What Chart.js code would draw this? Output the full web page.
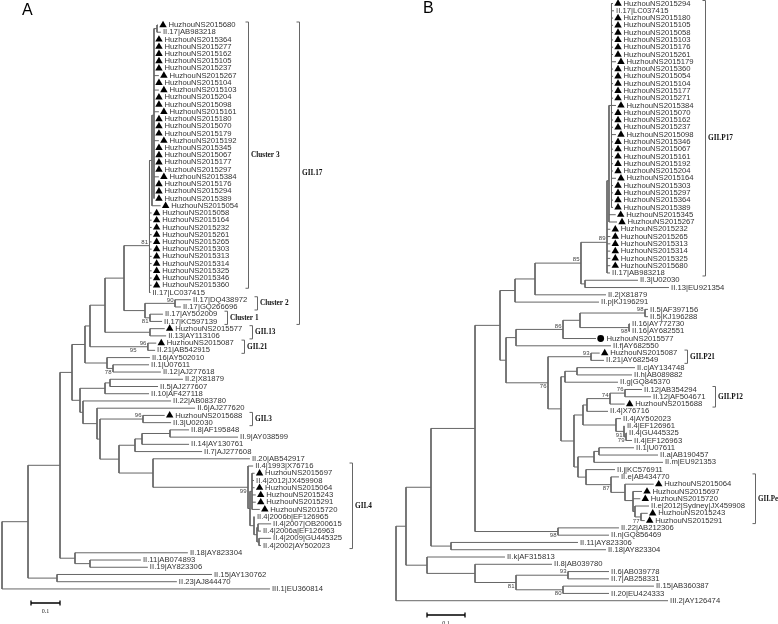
<!DOCTYPE html>
<html lang="en">
<head>
<meta charset="UTF-8">
<title>Norovirus phylogenetic trees</title>
<script src="https://cdn.jsdelivr.net/npm/chart.js"></script>
<style>
  body { margin: 0; background: #fff; }
  .wrap { position: relative; width: 778px; height: 624px; }
  canvas { position: absolute; top: 0; }
  #treeA { left: 0; }
  #treeB { left: 389px; }
</style>
</head>
<body>
<div class="wrap">
  <canvas id="treeA" width="389" height="624"></canvas>
  <canvas id="treeB" width="389" height="624"></canvas>
</div>
<script>
// ---- panel A : leaves top to bottom, tip depth (substitutions/site) ----
const leavesA = ['HuzhouNS2015680','II.17|AB983218','HuzhouNS2015364','HuzhouNS2015277','HuzhouNS2015162','HuzhouNS2015105','HuzhouNS2015237','HuzhouNS2015267','HuzhouNS2015104','HuzhouNS2015103','HuzhouNS2015204','HuzhouNS2015098','HuzhouNS2015161','HuzhouNS2015180','HuzhouNS2015070','HuzhouNS2015179','HuzhouNS2015192','HuzhouNS2015345','HuzhouNS2015067','HuzhouNS2015177','HuzhouNS2015297','HuzhouNS2015384','HuzhouNS2015176','HuzhouNS2015294','HuzhouNS2015389','HuzhouNS2015054','HuzhouNS2015058','HuzhouNS2015164','HuzhouNS2015232','HuzhouNS2015261','HuzhouNS2015265','HuzhouNS2015303','HuzhouNS2015313','HuzhouNS2015314','HuzhouNS2015325','HuzhouNS2015346','HuzhouNS2015360','II.17|LC037415','II.17|DQ438972','II.17|GQ266696','II.17|AY502009','II.17|KC597139','HuzhouNS2015577','II.13|AY113106','HuzhouNS2015087','II.21|AB542915','II.16|AY502010','II.1|U07611','II.12|AJ277618','II.2|X81879','II.5|AJ277607','II.10|AF427118','II.22|AB083780','II.6|AJ277620','HuzhouNS2015688','II.3|U02030','II.8|AF195848','II.9|AY038599','II.14|AY130761','II.7|AJ277608','II.20|AB542917','II.4|1993|X76716','HuzhouNS2015697','II.4|2012|JX459908','HuzhouNS2015064','HuzhouNS2015243','HuzhouNS2015291','HuzhouNS2015720','II.4|2006b|EF126965','II.4|2007|OB200615','II.4|2006a|EF126963','II.4|2009|GU445325','II.4|2002|AY502023','II.18|AY823304','II.11|AB074893','II.19|AY823306','II.15|AY130762','II.23|AJ844470','III.1|EU360814'];

const tipsA = [0.538,0.548,0.524,0.524,0.524,0.524,0.524,0.541,0.524,0.541,0.524,0.524,0.541,0.524,0.524,0.524,0.541,0.524,0.524,0.524,0.524,0.541,0.524,0.524,0.524,0.547,
  0.516,0.516,0.516,0.516,0.516,0.516,0.516,0.516,0.516,0.516,0.516,0.512,
  0.652,0.617,0.555,0.552,0.561,0.566,0.532,0.528,0.510,0.507,0.548,0.624,0.538,0.507,0.583,0.666,0.561,0.583,
  0.645,0.814,0.645,0.690,0.855,0.866,0.871,0.869,0.871,0.875,0.875,0.889,0.872,0.928,0.893,0.928,0.893,
  0.641,0.479,0.503,0.724,0.603,0.924];

// internal node = [depth, children, bootstrap]; a number child is a leaf index
const treeA = [0, [
  [0.0897, [
    [0.2, [
      [0.2414, [
        [0.2862, [
          [0.3034, [
            [0.3552, [
              [0.4207, [
                [0.5086, [
                  [0.5172, [
                    [0.5241, [[0.5345, [0, 1]], 2,3,4,5,6,7,8,9,10,11,12,13,14,15,16,17,18,19,20,21,22,23,24]],
                    25]],
                  26,27,28,29,30,31,32,33,34,35,36,37], 81],
                [0.4931, [[0.5966, [38, 39], 90], [0.5103, [40, 41], 81]]]
              ]],
              [0.5103, [42, 43]]
            ]],
            [0.469, [[0.503, [44, 45], 96]], 95]
          ]],
          [0.3621, [46, [0.3828, [47, 48], 78]]]
        ]],
        [0.269, [
          [0.3552, [[0.3724, [49, 50]], 51]],
          [0.2793, [52,
            [0.3276, [53,
              [0.3379, [
                [0.4862, [54, 55], 96],
                [0.4034, [
                  [0.4586, [[0.4828, [[0.5793, [56, 57]], 58]], 59]],
                  [0.5207, [60,
                    [0.8483, [61, [0.8552, [[0.8621, [62,63,64,65,66,67]],
                      [0.869, [68, [0.8793, [[0.8828, [69, 70]], [0.8862, [71, 72]]]]]]]]], 99]]]
                ]]
              ]]
            ]]
          ]]
        ]]
      ]],
      [0.2517, [73, [0.3034, [74, 75]]]]
    ]],
    [0.1897, [76, 77]]
  ]],
  78
]];

const cladesA = [['Cluster 3', 0, 36], ['Cluster 2', 38, 39], ['Cluster 1', 40, 41], ['GII.17', 0, 41],
  ['GII.13', 42, 43], ['GII.21', 44, 45], ['GII.3', 54, 55], ['GII.4', 61, 72]];

// ---- panel B ----
const leavesB = ['HuzhouNS2015294','II.17|LC037415','HuzhouNS2015180','HuzhouNS2015105','HuzhouNS2015058','HuzhouNS2015103','HuzhouNS2015176','HuzhouNS2015261','HuzhouNS2015179','HuzhouNS2015360','HuzhouNS2015054','HuzhouNS2015104','HuzhouNS2015177','HuzhouNS2015271','HuzhouNS2015384','HuzhouNS2015070','HuzhouNS2015162','HuzhouNS2015237','HuzhouNS2015098','HuzhouNS2015346','HuzhouNS2015067','HuzhouNS2015161','HuzhouNS2015192','HuzhouNS2015204','HuzhouNS2015164','HuzhouNS2015303','HuzhouNS2015297','HuzhouNS2015364','HuzhouNS2015389','HuzhouNS2015345','HuzhouNS2015267','HuzhouNS2015232','HuzhouNS2015265','HuzhouNS2015313','HuzhouNS2015314','HuzhouNS2015325','HuzhouNS2015680','II.17|AB983218','II.3|U02030','II.13|EU921354','II.2|X81879','II.p|KJ196291','II.5|AF397156','II.5|KJ196288','II.16|AY772730','II.16|AY682551','HuzhouNS2015577','II.f|AY682550','HuzhouNS2015087','II.21|AY682549','II.c|AY134748','II.h|AB089882','II.g|GQ845370','II.12|AB354294','II.12|AF504671','HuzhouNS2015688','II.4|X76716','II.4|AY502023','II.4|EF126961','II.4|GU445325','II.4|EF126963','II.1|U07611','II.a|AB190457','II.m|EU921353','II.j|KC576911','II.e|AB434770','HuzhouNS2015064','HuzhouNS2015697','HuzhouNS2015720','II.e|2012|Sydney|JX459908','HuzhouNS2015243','HuzhouNS2015291','II.22|AB212306','II.n|GQ856469','II.11|AY823306','II.18|AY823304','II.k|AF315813','II.8|AB039780','II.6|AB039778','II.7|AB258331','II.15|AB360387','II.20|EU424333','III.2|AY126474'];

const tipsB = [0.5711,0.5737,0.5711,0.5711,0.5711,0.5711,0.5711,0.5711,0.5789,0.5711,0.5711,0.5711,0.5711,0.5711,0.5789,0.5711,0.5711,0.5711,0.5789,0.5711,0.5711,0.5711,0.5711,0.5711,0.5789,0.5711,0.5711,0.5711,0.5711,0.5782,0.5816,
  0.5639,0.5639,0.5639,0.5639,0.5639,0.5639,0.5632,0.6368,0.7184,0.5526,0.5342,
  0.6632,0.6632,0.6158,0.6158,0.5263,0.5658,0.5361,0.5474,0.6289,0.6211,0.5842,0.6474,0.6711,0.6018,0.5579,
  0.5921,0.6026,0.6079,0.6211,0.6263,0.6895,0.7026,0.5763,0.5868,0.6782,0.6474,0.6429,0.6658,0.6624,0.6545,
  0.5868,0.5605,0.4789,0.5526,0.2868,0.4105,0.5605,0.5605,0.6789,0.5605,0.7158];

const treeB = [0, [
  [0.0263, [
    [0.0921, [
      [0.2079, [
        [0.2737, [
          [0.3132, [
            [0.3658, [
              [0.4868, [
                [0.5553, [
                  [0.5605, [[0.5671, [0,1,2,3,4,5,6,7,8,9,10,11,12,13,14,15,16,17,18,19,20,21,22,23,24,25,26,27,28]], 29, 30]],
                  31,32,33,34,35,36,37], 89],
                [0.4974, [38, 39]]
              ], 85],
              40]],
            41]],
          [0.2895, [
            [0.3158, [
              [0.4395, [[0.4842, [[0.6553, [42, 43], 98], [0.6132, [44, 45], 98]]], 46], 86],
              47]],
            [0.4, [
              [0.5132, [48, 49], 93],
              [0.4342, [
                [0.4447, [[0.4763, [50, 51]], 52]],
                [0.4684, [
                  [0.4921, [
                    [0.5026, [[0.5632, [[0.6026, [53, 54], 76], 55], 74], 56]],
                    [0.5789, [57, [0.6, [58, [0.6053, [59, 60], 79]], 91]]]
                  ]],
                  [0.4789, [
                    [0.5211, [[0.5342, [61, 62]], 63]],
                    [0.5, [64, [0.5658, [65, [0.6026, [66, [0.6237, [67, 68, [0.6289, [69, [0.6447, [70, 71], 77]]]]]]]], 87]]]
                  ]]
                ]]
              ]]
            ], 76]
          ]]
        ]],
        [0.4263, [72, 73], 98]
      ]],
      [0.1447, [74, 75]]
    ]],
    [0.0816, [76, [0.2079, [77, [0.3158, [[0.4526, [78, 79], 93], [0.4395, [80, 81], 80]], 81]]]]]
  ]],
  82
]];

const cladesB = [['GII.P17', 0, 37], ['GII.P21', 48, 49], ['GII.P12', 53, 55], ['GII.Pe', 65, 71]];
const circlesB = [46];
const scaleBarValue = 0.1;

const LEAF_FONT = '7.7px "Liberation Sans", Arial, sans-serif';
const BOOT_FONT = '6px "Liberation Sans", Arial, sans-serif';
const CLADE_FONT = 'bold 7.3px "Liberation Serif", serif';

function layout(tree, tips) {
  const segs = [], boots = [];
  function place(node) {
    if (typeof node === 'number') return node;
    const d = node[0], kids = node[1];
    const ys = kids.map((k, i) => {
      const ky = place(k);
      const kx = typeof k === 'number' ? tips[k] : k[0];
      segs.push({x: d, y: ky}, {x: kx, y: ky}, {x: NaN, y: NaN});
      if (typeof k !== 'number' && k[2] !== undefined) boots.push({x: k[0], y: ky, v: k[2], first: i === 0});
      return ky;
    });
    segs.push({x: d, y: ys[0]}, {x: d, y: ys[ys.length - 1]}, {x: NaN, y: NaN});
    return ys.reduce((a, b) => a + b, 0) / ys.length;
  }
  place(tree);
  return {segs, boots};
}

function treeText(p, boots) {
  return {
    id: 'treeText',
    afterDatasetsDraw(chart) {
      const {ctx, scales: {x, y}} = chart;
      ctx.save();
      const labelX = i => x.getPixelForValue(p.tips[i]) +
        (p.leaves[i].startsWith('Huzhou') ? 10.5 : 2);
      ctx.font = LEAF_FONT;
      ctx.fillStyle = '#333';
      ctx.textBaseline = 'middle';
      ctx.textAlign = 'left';
      const ends = p.leaves.map((name, i) => {
        const lx = labelX(i);
        ctx.fillText(name, lx, y.getPixelForValue(i));
        return lx + ctx.measureText(name).width;
      });

      // bootstrap values
      ctx.font = BOOT_FONT;
      ctx.fillStyle = '#444';
      ctx.textAlign = 'right';
      boots.forEach(b => {
        ctx.textBaseline = b.first ? 'bottom' : 'top';
        const by = y.getPixelForValue(b.y) + (b.first ? -0.5 : 1);
        ctx.fillText(String(b.v), x.getPixelForValue(b.x) - 1.5, by);
      });

      // clade brackets
      const done = [];
      ctx.strokeStyle = '#666';
      ctx.lineWidth = 1;
      p.clades.forEach(([name, a, b]) => {
        let right = Math.max(...ends.slice(a, b + 1));
        done.forEach(c => { if (c.a >= a && c.b <= b) right = Math.max(right, c.end); });
        const bx = Math.round(right + 10) + 0.5;
        const y0 = y.getPixelForValue(a) - 3, y1 = y.getPixelForValue(b) + 3;
        ctx.beginPath();
        ctx.moveTo(bx - 3, y0); ctx.lineTo(bx, y0); ctx.lineTo(bx, y1); ctx.lineTo(bx - 3, y1);
        ctx.stroke();
        ctx.font = CLADE_FONT;
        ctx.fillStyle = '#111';
        ctx.textAlign = 'left';
        ctx.textBaseline = 'middle';
        const tx = bx + 2.5;
        ctx.fillText(name, tx, (y0 + y1) / 2, chart.width - tx);
        done.push({a, b, end: tx + ctx.measureText(name).width});
      });

      // scale bar
      const len = x.getPixelForValue(scaleBarValue) - x.getPixelForValue(0);
      ctx.strokeStyle = '#000';
      ctx.lineWidth = 1.3;
      ctx.beginPath();
      ctx.moveTo(p.barX, p.barY); ctx.lineTo(p.barX + len, p.barY);
      ctx.moveTo(p.barX, p.barY - 2.5); ctx.lineTo(p.barX, p.barY + 2.5);
      ctx.moveTo(p.barX + len, p.barY - 2.5); ctx.lineTo(p.barX + len, p.barY + 2.5);
      ctx.stroke();
      ctx.font = '6px "Liberation Serif", serif';
      ctx.fillStyle = '#222';
      ctx.textAlign = 'center';
      ctx.textBaseline = 'top';
      ctx.fillText(String(scaleBarValue), p.barX + len / 2, p.barY + 5);

      // panel letter
      ctx.font = '16px "Liberation Sans", Arial, sans-serif';
      ctx.fillStyle = '#000';
      ctx.textAlign = 'left';
      ctx.fillText(p.letter, p.letterX, p.letterY);
      ctx.restore();
    }
  };
}

function drawPanel(id, p) {
  const W = 389, H = 624;
  const {segs, boots} = layout(p.tree, p.tips);
  const xmin = -p.rootPx / p.pxPer, xmax = (W - p.rootPx) / p.pxPer;
  const ymin = -p.firstY / p.rowH, ymax = (H - p.firstY) / p.rowH;
  const tri = [], dot = [];
  p.leaves.forEach((n, i) => {
    if (p.circles.includes(i)) dot.push({x: p.tips[i] + 4.7 / p.pxPer, y: i});
    else if (n.startsWith('Huzhou')) tri.push({x: p.tips[i] + 5 / p.pxPer, y: i});
  });
  new Chart(document.getElementById(id), {
    type: 'scatter',
    data: {
      datasets: [
        { data: tri, pointStyle: 'triangle', pointRadius: 4.3, backgroundColor: '#000', borderColor: '#000', borderWidth: 0 },
        { data: dot, pointStyle: 'circle', pointRadius: 3.4, backgroundColor: '#000', borderColor: '#000', borderWidth: 0 },
        { data: segs, showLine: true, spanGaps: false, borderColor: '#666', borderWidth: 1, pointRadius: 0 }
      ]
    },
    options: {
      responsive: false,
      animation: false,
      events: [],
      devicePixelRatio: 1,
      layout: { padding: 0, autoPadding: false },
      plugins: { legend: { display: false }, tooltip: { enabled: false } },
      scales: {
        x: { type: 'linear', display: false, min: xmin, max: xmax },
        y: { type: 'linear', display: false, min: ymin, max: ymax, reverse: true }
      }
    },
    plugins: [treeText(p, boots)]
  });
}

drawPanel('treeA', {
  leaves: leavesA, tips: tipsA, tree: treeA, clades: cladesA, circles: [],
  rootPx: 2, pxPer: 290, firstY: 25, rowH: 7.23,
  barX: 31, barY: 603, letter: 'A', letterX: 22, letterY: 3
});
drawPanel('treeB', {
  leaves: leavesB, tips: tipsB, tree: treeB, clades: cladesB, circles: circlesB,
  rootPx: 7, pxPer: 380, firstY: 3.5, rowH: 7.283,
  barX: 38, barY: 615, letter: 'B', letterX: 34, letterY: 1
});
</script>
</body>
</html>
